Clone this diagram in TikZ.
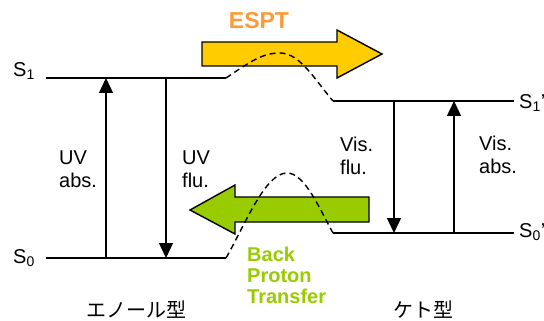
\documentclass[tikz,border=0pt]{standalone}
\usepackage{fontspec}
\setmainfont{Liberation Sans}
\newfontfamily\jpfont{Noto Sans CJK JP}
\usetikzlibrary{arrows.meta}
\definecolor{esptyellow}{HTML}{FFCC00}
\definecolor{esptorange}{HTML}{FF9933}
\definecolor{bptgreen}{HTML}{99CC00}
\begin{document}
\begin{tikzpicture}[x=1pt,y=-1pt,
  level/.style={line width=1.4pt},
  trans/.style={line width=1.4pt,-{Triangle[length=15pt,width=14pt]}},
  barrier/.style={line width=1.4pt,dash pattern=on 6pt off 4pt},
  bigarrow/.style={line width=1.4pt,line join=miter},
  lbl/.style={inner sep=0pt,font=\fontsize{20}{23}\selectfont,align=left},
  bold/.style={inner sep=0pt,font=\fontsize{20}{21}\selectfont\bfseries,align=left}]
  \useasboundingbox (0,0) rectangle (544,321);
  % big arrows
  \filldraw[bigarrow,fill=esptyellow] (202,42) -- (337,42) -- (337,30) -- (382,54)
    -- (337,78) -- (337,66) -- (202,66) -- cycle;
  \filldraw[bigarrow,fill=bptgreen] (369,197) -- (235,197) -- (235,185) -- (190,210)
    -- (235,234) -- (235,222) -- (369,222) -- cycle;
  \node[bold,font=\fontsize{23}{25}\selectfont\bfseries,text=esptorange] (espt) at (259,21) {ESPT};
  \node[bold,text=bptgreen,anchor=west] (bpt) at (247,275) {Back\\Proton\\Transfer};
  % levels
  \coordinate (s1a) at (46,78);   \coordinate (s1b) at (226,78);
  \coordinate (s1c) at (333,101); \coordinate (s1d) at (514,101);
  \coordinate (s0a) at (46,258);  \coordinate (s0b) at (226,258);
  \coordinate (s0c) at (333,233); \coordinate (s0d) at (514,233);
  \draw[level] (s1a) -- (s1b);
  \draw[level] (s1c) -- (s1d);
  \draw[level] (s0a) -- (s0b);
  \draw[level] (s0c) -- (s0d);
  \draw[barrier] (s1b) .. controls (250,62) and (262,53) .. (280,53)
    .. controls (300,53) and (315,80) .. (s1c);
  \draw[barrier] (s0b) .. controls (245,225) and (265,173) .. (287,173)
    .. controls (305,173) and (320,210) .. (s0c);
  \node[lbl,anchor=west] (s1lab) at (13,71) {S\textsubscript{1}};
  \node[lbl,anchor=west] (s0lab) at (13,258) {S\textsubscript{0}};
  \node[lbl,anchor=west] (s1plab) at (519,103) {S\textsubscript{1}'};
  \node[lbl,anchor=west] (s0plab) at (519,232) {S\textsubscript{0}'};
  % transitions
  \coordinate (uva0) at (106,258); \coordinate (uva1) at (106,78);
  \coordinate (uvf1) at (166,78);  \coordinate (uvf0) at (166,258);
  \coordinate (visf1) at (394,101); \coordinate (visf0) at (394,233);
  \coordinate (visa0) at (454,233); \coordinate (visa1) at (454,101);
  \draw[trans] (uva0) -- (uva1);
  \draw[trans] (uvf1) -- (uvf0);
  \draw[trans] (visf1) -- (visf0);
  \draw[trans] (visa0) -- (visa1);
  \node[lbl,anchor=west] (uvabs) at (59,169) {UV\\abs.};
  \node[lbl,anchor=west] (uvflu) at (182,169) {UV\\flu.};
  \node[lbl,anchor=west] (visflu) at (340,156) {Vis.\\flu.};
  \node[lbl,anchor=west] (visabs) at (479,155) {Vis.\\abs.};
  % forms
  \node[lbl,font=\fontsize{20}{23}\selectfont\jpfont] (enol) at (136,310) {エノール型};
  \node[lbl,font=\fontsize{20}{23}\selectfont\jpfont] (keto) at (423,310) {ケト型};
\end{tikzpicture}
\end{document}
